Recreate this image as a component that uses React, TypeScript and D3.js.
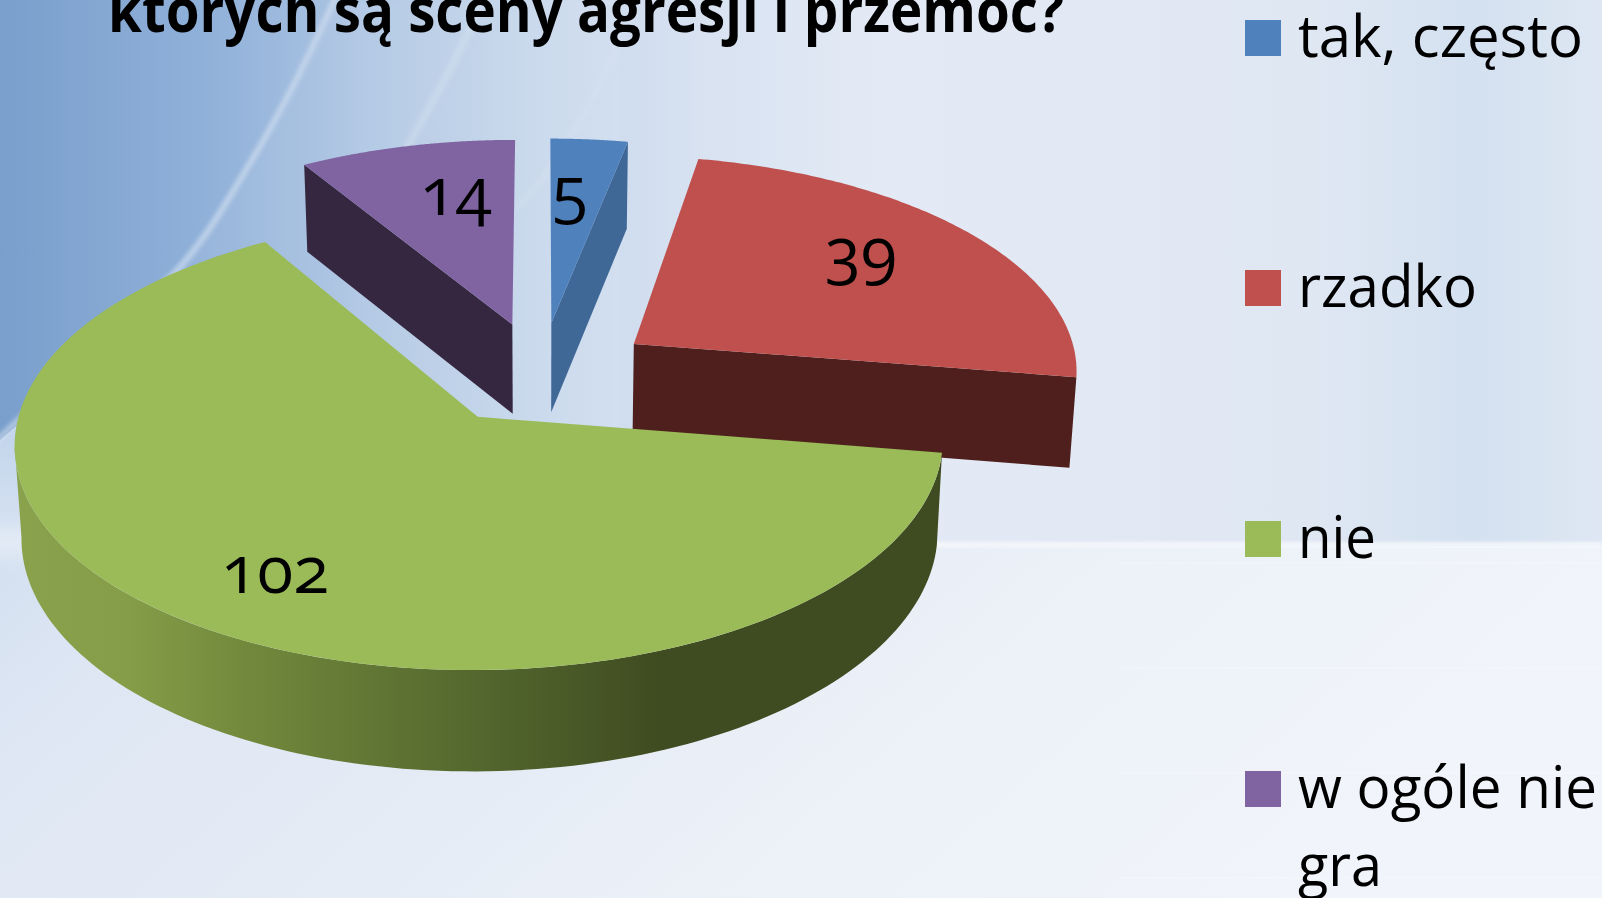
import React from "react";
import * as d3 from "d3";

const categories = ["tak, często", "rzadko", "nie", "w ogóle nie gra"];
const values = [5, 39, 102, 14];
const topColors = ["#4F81BD", "#BF504D", "#9ABB58", "#8064A2"];
const wallColors = ["#3F6897", "#4E1F1C", "url(#rim)", "#35273F"];
const titleText = "których są sceny agresji i przemoc?";
const labelAngles = [4.2, 52.9, 211.6, 347.9];
const labelRadii = [0.642, 0.697, 0.765, 0.678];
const labelNudges = [-8, -6, -2, -3];
const apexShifts = [0, 0.012, -0.004, 0];

const W = 1602, H = 898;
const cx = 541, cy = 373, A = 451, B = 215, persp = 0.11, explode = 0.24;

const project = (px: number, py: number) => {
  const den = 1 + persp * py;
  return [cx + (A * px) / den, cy - (B * py) / den];
};
const depth = (py: number) => 90.5 - 6 * py + 2.5 * py * py;
const projectBottom = (px: number, py: number) => {
  const [x, y] = project(px, py);
  return [cx + (x - cx) * 0.987, y + depth(py)];
};

const line = d3.line();
const arcs = d3.pie<number>().sort(null)(values);

const slices = arcs.map((a, i) => {
  const mid = (a.startAngle + a.endAngle) / 2;
  const ex = explode * Math.sin(mid), ey = explode * Math.cos(mid);
  const ax = ex + apexShifts[i];
  const polar = (t: number, r = 1): [number, number] => [ex + r * Math.sin(t), ey + r * Math.cos(t)];
  const steps = d3.range(0, 121).map((k) => a.startAngle + ((a.endAngle - a.startAngle) * k) / 120);
  const top = line([project(ax, ey), ...steps.map((t) => project(...polar(t)))] as any) + "Z";
  const wallAt = (t: number) => {
    const o = polar(t);
    return line([project(ax, ey), project(...o), projectBottom(...o), projectBottom(ax, ey)] as any) + "Z";
  };
  let wall = "";
  if (i === 0 || i === 1) wall = wallAt(a.endAngle);
  if (i === 3) wall = wallAt(a.startAngle);
  if (i === 2) {
    const rimEnd = (263 * Math.PI) / 180;
    const rim = d3.range(0, 121).map((k) => a.startAngle + ((rimEnd - a.startAngle) * k) / 120);
    wall =
      line([...rim.map((t) => project(...polar(t))), ...rim.slice().reverse().map((t) => projectBottom(...polar(t)))] as any) + "Z";
  }
  const lp = polar((labelAngles[i] * Math.PI) / 180, labelRadii[i]);
  return { top, wall, label: project(...lp), i };
});

const legendBaselines = [56, 306, 557, 807];
const legendTextWidths = [285, 179, 78, 299];

export default function App() {
  return (
    <svg width={W} height={H} style={{ position: "absolute", left: 0, top: 0, display: "block" }}>
      <defs>
        <filter id="soft" x="-20%" y="-20%" width="140%" height="140%">
          <feGaussianBlur stdDeviation="2" />
        </filter>
        <filter id="soft8" x="-30%" y="-100%" width="160%" height="300%">
          <feGaussianBlur stdDeviation="9" />
        </filter>
        <filter id="soft1" x="-5%" y="-300%" width="110%" height="700%">
          <feGaussianBlur stdDeviation="1.5" />
        </filter>
        <linearGradient id="bgTop" x1="0" x2="1" y1="0" y2="0">
          <stop offset="0" stopColor="#7A9FCC" />
          <stop offset="0.125" stopColor="#8FB0D9" />
          <stop offset="0.19" stopColor="#A2BDDF" />
          <stop offset="0.25" stopColor="#B4CAE5" />
          <stop offset="0.34" stopColor="#C8D8EC" />
          <stop offset="0.44" stopColor="#D8E2F1" />
          <stop offset="0.55" stopColor="#E3EAF5" />
          <stop offset="0.82" stopColor="#DFE7F3" />
          <stop offset="0.92" stopColor="#D4E1F0" />
          <stop offset="1" stopColor="#DEE7F3" />
        </linearGradient>
        <linearGradient id="bgBottom" x1="0" x2="1" y1="0" y2="0.25">
          <stop offset="0" stopColor="#D3E0F0" />
          <stop offset="0.15" stopColor="#DFE7F4" />
          <stop offset="0.4" stopColor="#E4EBF5" />
          <stop offset="0.65" stopColor="#ECF1F8" />
          <stop offset="1" stopColor="#F1F4FA" />
        </linearGradient>
        <linearGradient id="lowerLeft" x1="0" x2="0" y1="0" y2="1">
          <stop offset="0" stopColor="#B9CFE9" />
          <stop offset="1" stopColor="#D8E3F2" />
        </linearGradient>
        <linearGradient id="rim" gradientUnits="userSpaceOnUse" x1="15" x2="940" y1="0" y2="0">
          <stop offset="0" stopColor="#8AA24C" />
          <stop offset="0.12" stopColor="#859D48" />
          <stop offset="0.27" stopColor="#6F863B" />
          <stop offset="0.48" stopColor="#566A2F" />
          <stop offset="0.61" stopColor="#485827" />
          <stop offset="0.7" stopColor="#3F4B20" />
          <stop offset="1" stopColor="#3F4B20" />
        </linearGradient>
      </defs>

      <rect x={0} y={0} width={W} height={546} fill="url(#bgTop)" />
      <rect x={0} y={546} width={W} height={H - 546} fill="url(#bgBottom)" />
      <path d="M335,0 C300,90 240,180 167,280 C110,340 50,390 0,440 L0,546 L620,546 L620,0 Z" fill="#FFFFFF" opacity={0.07} filter="url(#soft)" />
      <path d="M0,440 L70,380 L70,546 L0,546 Z" fill="url(#lowerLeft)" />
      <g fill="none" stroke="#DCE7F4" filter="url(#soft)">
        <path d="M337,-5 C319,33 290,97 250,163 C225,205 200,250 167,280 C110,335 50,390 -5,442" strokeWidth={6} opacity={0.55} />
        <path d="M485,-5 C469,33 440,90 411,140 C395,170 380,195 365,220" strokeWidth={8} opacity={0.35} />
        <path d="M640,-5 C620,43 600,85 576,127 C555,165 535,190 518,207" strokeWidth={7} opacity={0.28} />
      </g>
      <rect x={-20} y={528} width={110} height={30} fill="#EAF0F8" opacity={0.6} filter="url(#soft8)" />
      <rect x={930} y={542} width={W - 930} height={5} fill="#F8FAFD" opacity={0.8} filter="url(#soft1)" />
      <g stroke="#FFFFFF" opacity={0.3}>
        {[563, 668, 773, 878].map((y) => (
          <line key={y} x1={1120} x2={W} y1={y} y2={y} />
        ))}
      </g>

      {[3, 0, 1, 2].map((i) => (
        <g key={categories[i]}>
          <path d={slices[i].wall} fill={wallColors[i]} />
          <path d={slices[i].top} fill={topColors[i]} />
        </g>
      ))}

      <g fontFamily="'Open Sans', sans-serif" fill="#000">
        <text x={108} y={32} fontSize={60} fontWeight={700} textLength={956} lengthAdjust="spacingAndGlyphs">
          {titleText}
        </text>
        {slices.map((s) => (
          <text
            key={s.i}
            x={s.label[0]}
            y={s.label[1] + 20 + labelNudges[s.i]}
            fontSize={66}
            textAnchor="middle"
            style={{ fontVariantNumeric: "oldstyle-nums" }}
          >
            {values[s.i]}
          </text>
        ))}
        {legendBaselines.map((y, i) => (
          <g key={y}>
            <rect x={1245} y={y - 36} width={36} height={36} fill={topColors[i]} />
            <text x={1298} y={y + 1} fontSize={58} textLength={legendTextWidths[i]} lengthAdjust="spacingAndGlyphs">
              {i === 3 ? "w ogóle nie" : categories[i]}
            </text>
          </g>
        ))}
        <text x={1298} y={886} fontSize={58} textLength={84} lengthAdjust="spacingAndGlyphs">
          gra
        </text>
      </g>
    </svg>
  );
}
